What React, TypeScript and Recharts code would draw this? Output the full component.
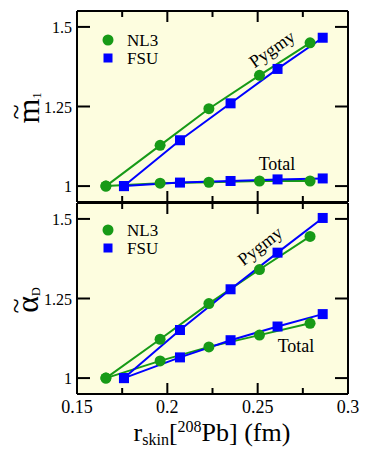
import React from 'react'
import { LineChart, Line, XAxis, YAxis, CartesianGrid } from 'recharts'

const nl3Skin = [0.166, 0.196, 0.223, 0.251, 0.279]
const fsuSkin = [0.176, 0.207, 0.235, 0.261, 0.286]

// top panel: m1 ratio
const nl3PygmyM1 = [1.0, 1.128, 1.243, 1.348, 1.45]
const fsuPygmyM1 = [1.0, 1.144, 1.26, 1.368, 1.466]
const nl3TotalM1 = [1.0, 1.009, 1.012, 1.016, 1.016]
const fsuTotalM1 = [1.0, 1.011, 1.016, 1.021, 1.024]

// bottom panel: alpha_D ratio
const nl3PygmyAlpha = [1.0, 1.122, 1.234, 1.341, 1.445]
const fsuPygmyAlpha = [1.0, 1.151, 1.279, 1.394, 1.503]
const nl3TotalAlpha = [1.0, 1.054, 1.098, 1.135, 1.172]
const fsuTotalAlpha = [1.0, 1.065, 1.119, 1.162, 1.201]

const xTicks = [0.15, 0.175, 0.2, 0.225, 0.25, 0.275, 0.3]
const xLabels: Record<string, string> = { '0.15': '0.15', '0.2': '0.2', '0.25': '0.25', '0.3': '0.3' }
const yTicks = [1, 1.25, 1.5]
const yLabels = ['1', '1.25', '1.5']

const GREEN = '#179a17'
const BLUE = '#0000ff'
const BG = '#fdfddf'
const serif = { fontFamily: "'Liberation Serif', 'Times New Roman', 'DejaVu Serif', serif" }

const toRows = (xs: number[], ys: number[]) => xs.map((x, i) => ({ x, y: ys[i] }))

const isMajor = (v: number) => Math.abs(Math.round(v * 20) - v * 20) < 1e-6

const BottomTick = (showLabel: boolean) => (p: any) => {
  const v = p.payload.value
  const len = isMajor(v) ? 11 : 6
  const lab = xLabels[String(v)]
  return (
    <g>
      <line x1={p.x} x2={p.x} y1={p.y} y2={p.y - len} stroke="#000" strokeWidth={2} />
      {showLabel && lab && (
        <text x={p.x} y={p.y + 19} textAnchor="middle" style={serif} fontSize={18} fill="#000">
          {lab}
        </text>
      )}
    </g>
  )
}

const TopTick = (p: any) => {
  const v = p.payload.value
  const len = isMajor(v) ? 11 : 6
  return <line x1={p.x} x2={p.x} y1={p.y} y2={p.y + len} stroke="#000" strokeWidth={2} />
}

const LeftTick = (p: any) => {
  const i = yTicks.indexOf(p.payload.value)
  return (
    <g>
      <line x1={p.x} x2={p.x + 13} y1={p.y} y2={p.y} stroke="#000" strokeWidth={2} />
      <text x={p.x - 5} y={p.y + 6} textAnchor="end" style={serif} fontSize={16} fill="#000">
        {yLabels[i]}
      </text>
    </g>
  )
}

const RightTick = (p: any) => (
  <line x1={p.x} x2={p.x - 13} y1={p.y} y2={p.y} stroke="#000" strokeWidth={2} />
)

const SquareDot = (p: any) => (
  <rect key={p.key} x={p.cx - 5} y={p.cy - 5} width={10} height={10} fill={BLUE} />
)

type Series = { nl3P: number[]; fsuP: number[]; nl3T: number[]; fsuT: number[] }

function Panel({ s, showXLabels, height, mTop, mBottom }: { s: Series; showXLabels: boolean; height: number; mTop: number; mBottom: number }) {
  const axisLine = { stroke: '#000', strokeWidth: 2 }
  const lines = [
    { key: 'nl3T', data: toRows(nl3Skin, s.nl3T), c: GREEN },
    { key: 'nl3P', data: toRows(nl3Skin, s.nl3P), c: GREEN },
    { key: 'fsuT', data: toRows(fsuSkin, s.fsuT), c: BLUE },
    { key: 'fsuP', data: toRows(fsuSkin, s.fsuP), c: BLUE },
  ]
  return (
    <LineChart width={365} height={height} margin={{ top: mTop - 1, right: 16, bottom: mBottom - 1, left: 76 }}>
      <CartesianGrid xAxisId="b" yAxisId="l" horizontal={false} vertical={false} fill={BG} fillOpacity={1} />
      <XAxis xAxisId="b" type="number" dataKey="x" domain={[0.15, 0.3]} ticks={xTicks} interval={0} height={1}
        tickSize={0} tickMargin={0} axisLine={axisLine} tickLine={false} tick={BottomTick(showXLabels)} allowDataOverflow />
      <XAxis xAxisId="t" orientation="top" type="number" dataKey="x" domain={[0.15, 0.3]} ticks={xTicks} interval={0} height={1}
        tickSize={0} tickMargin={0} axisLine={axisLine} tickLine={false} tick={TopTick} allowDataOverflow />
      <YAxis yAxisId="l" type="number" domain={[0.95, 1.55]} ticks={yTicks} interval={0} width={1}
        tickSize={0} tickMargin={0} axisLine={axisLine} tickLine={false} tick={LeftTick} allowDataOverflow />
      <YAxis yAxisId="r" orientation="right" type="number" domain={[0.95, 1.55]} ticks={yTicks} interval={0} width={1}
        tickSize={0} tickMargin={0} axisLine={axisLine} tickLine={false} tick={RightTick} allowDataOverflow />
      {lines.map((l) => (
        <Line key={l.key} xAxisId="b" yAxisId="l" data={l.data} dataKey="y" stroke={l.c} strokeWidth={2}
          dot={l.c === GREEN ? { r: 5.5, fill: GREEN, stroke: GREEN, strokeWidth: 0 } : SquareDot}
          activeDot={false} isAnimationActive={false} />
      ))}
    </LineChart>
  )
}

function Legend({ y }: { y: number }) {
  return (
    <g>
      <circle cx={108} cy={y} r={5.5} fill={GREEN} />
      <text x={127} y={y + 6} style={serif} fontSize={17}>NL3</text>
      <rect x={103.5} y={y + 13.5} width={9} height={9} fill={BLUE} />
      <text x={127} y={y + 24} style={serif} fontSize={17}>FSU</text>
    </g>
  )
}

export default function App() {
  return (
    <div style={{ position: 'absolute', left: 0, top: 0, width: 365, height: 450, background: '#fff' }}>
      <div style={{ position: 'absolute', left: 0, top: 0 }}>
        <Panel s={{ nl3P: nl3PygmyM1, fsuP: fsuPygmyM1, nl3T: nl3TotalM1, fsuT: fsuTotalM1 }} showXLabels={false} height={203} mTop={11} mBottom={1} />
      </div>
      <div style={{ position: 'absolute', left: 0, top: 202 }}>
        <Panel s={{ nl3P: nl3PygmyAlpha, fsuP: fsuPygmyAlpha, nl3T: nl3TotalAlpha, fsuT: fsuTotalAlpha }} showXLabels height={248} mTop={1} mBottom={56} />
      </div>
      <svg width={365} height={450} style={{ position: 'absolute', left: 0, top: 0, pointerEvents: 'none' }}>
        <Legend y={40} />
        <Legend y={230} />
        <g fill="#000">
          <text x={272} y={55} textAnchor="middle" style={serif} fontSize={18} transform="rotate(-35 272 49)">Pygmy</text>
          <text x={277} y={170} textAnchor="middle" style={serif} fontSize={18}>Total</text>
          <text x={260} y={252} textAnchor="middle" style={serif} fontSize={18} transform="rotate(-38 260 246)">Pygmy</text>
          <text x={296} y={352} textAnchor="middle" style={serif} fontSize={18}>Total</text>
        </g>
        <g fill="#000">
          <text transform="translate(39 108) rotate(-90)" textAnchor="middle" style={serif} fontSize={32}>
            m<tspan fontSize={12} dy={2}>1</tspan>
          </text>
          <text transform="translate(25 112) rotate(-90)" textAnchor="middle" style={serif} fontSize={28}>~</text>
          <text transform="translate(38 300) rotate(-90)" textAnchor="middle" style={serif} fontSize={32}>
            {'\u03b1'}<tspan fontSize={12} dy={2}>D</tspan>
          </text>
          <text transform="translate(25 306) rotate(-90)" textAnchor="middle" style={serif} fontSize={28}>~</text>
          <text x={212} y={441} textAnchor="middle" style={serif} fontSize={26}>
            r<tspan fontSize={16} dy={4}>skin</tspan>
            <tspan dy={-4}>[</tspan>
            <tspan fontSize={16} dy={-9}>208</tspan>
            <tspan dy={9}>Pb] (fm)</tspan>
          </text>
        </g>
      </svg>
    </div>
  )
}
